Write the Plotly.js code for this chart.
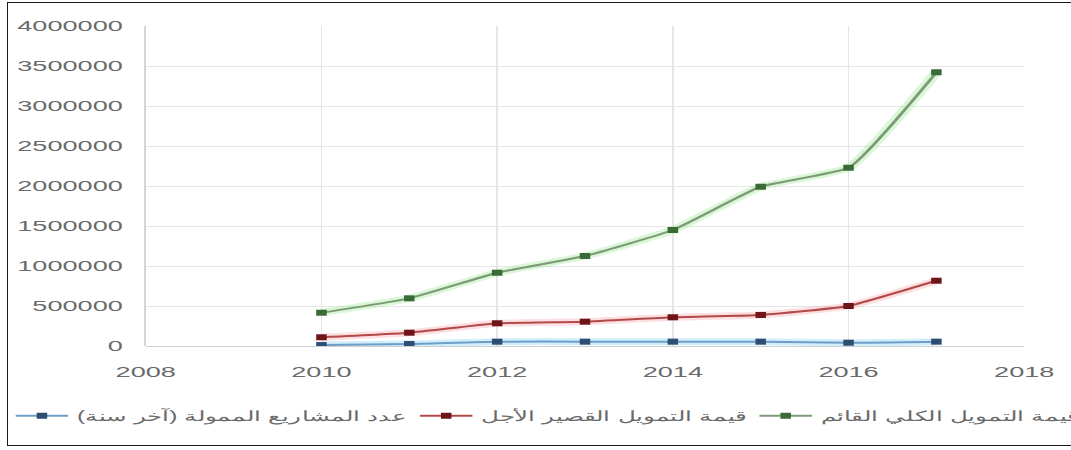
<!DOCTYPE html>
<html>
<head>
<meta charset="utf-8">
<script src="https://cdn.plot.ly/plotly-3.0.1.min.js"></script>
<style>
  html, body { margin: 0; padding: 0; background: #fff; }
  #wrap { position: absolute; left: 0; top: 0; width: 1071px; height: 450px; overflow: hidden; background: #fff; }
  #frame { position: absolute; left: 7px; top: 2px; width: 1070px; height: 444px; border: 1px solid #1a1a1a; box-sizing: border-box; pointer-events: none; }
  /* the figure is laid out narrow and stretched sideways, giving wide lettering;
     it is shifted left so the extra left margin leaves room for a one-row legend */
  #chart { position: absolute; left: -122.5px; top: 0; width: 790px; height: 450px; transform: scaleX(1.75); transform-origin: 0 0; }
</style>
</head>
<body>
<div id="wrap">
  <div id="chart"></div>
  <div id="frame"></div>
</div>
<script>
// Years covered by the series
const years = [2010, 2011, 2012, 2013, 2014, 2015, 2016, 2017];

// Series values
const projectsCount = [12000, 25000, 54000, 54000, 54000, 54000, 41000, 54000];
const shortTermFinance = [109000, 166000, 284000, 304000, 359000, 388000, 500000, 816000];
const totalFinance = [416000, 596000, 916000, 1125000, 1450000, 1991000, 2229000, 3421000];

// Legend labels
const seriesNames = [
  'عدد المشاريع الممولة (آخر سنة)',
  'قيمة التمويل القصير الأجل',
  'قيمة التمويل الكلي القائم'
];

// Axis ticks
const yTicks = [0, 500000, 1000000, 1500000, 2000000, 2500000, 3000000, 3500000, 4000000];
const xTicks = [2008, 2010, 2012, 2014, 2016, 2018];

function glow(y, color) {
  return {
    x: years, y: y, type: 'scatter', mode: 'lines',
    line: { color: color, width: 7, shape: 'spline', smoothing: 0.4 },
    hoverinfo: 'skip', showlegend: false
  };
}
function series(y, name, lineColor, markerColor, entryWidth) {
  return {
    x: years, y: y, type: 'scatter', mode: 'lines+markers', name: name,
    legendwidth: entryWidth,
    line: { color: lineColor, width: 2, shape: 'spline', smoothing: 0.4 },
    marker: { symbol: 'square', size: 6, color: markerColor }
  };
}

const data = [
  glow(projectsCount, 'rgba(120,210,240,0.35)'),
  glow(shortTermFinance, 'rgba(250,160,170,0.35)'),
  glow(totalFinance, 'rgba(150,235,140,0.35)'),
  series(projectsCount, seriesNames[0], '#6f9cc9', '#2d4e72', 186),
  series(shortTermFinance, seriesNames[1], '#b24a4a', '#6e1519', 149),
  series(totalFinance, seriesNames[2], '#7f9a78', '#3a6a35', 172)
];

const layout = {
  width: 790, height: 450,
  margin: { l: 153.4, r: 134.9, t: 26, b: 104, autoexpand: false },
  paper_bgcolor: '#ffffff', plot_bgcolor: '#ffffff',
  font: { family: 'Liberation Sans, Arial, sans-serif', size: 15.5, color: '#6a6a6a' },
  showlegend: true,
  legend: {
    orientation: 'h', x: -0.158, xanchor: 'left', y: -0.219, yanchor: 'middle',
    font: { size: 14, color: '#6a6a6a' }, itemwidth: 30, traceorder: 'normal',
    bgcolor: 'rgba(0,0,0,0)'
  },
  xaxis: {
    range: [2008, 2018], tickvals: xTicks, ticktext: xTicks.map(String),
    showgrid: true, gridcolor: '#e6e6e6', gridwidth: 1,
    zeroline: false, showline: false, ticks: '', ticklabelstandoff: 15
  },
  yaxis: {
    range: [0, 4000000], tickvals: yTicks, ticktext: yTicks.map(String),
    showgrid: true, gridcolor: '#e6e6e6', gridwidth: 1,
    zeroline: true, zerolinecolor: '#cfcfcf', zerolinewidth: 1,
    showline: true, linecolor: '#d6d6d6', linewidth: 1,
    ticks: '', ticklabelstandoff: 9
  }
};

Plotly.newPlot('chart', data, layout, { staticPlot: true, displayModeBar: false });
</script>
</body>
</html>
